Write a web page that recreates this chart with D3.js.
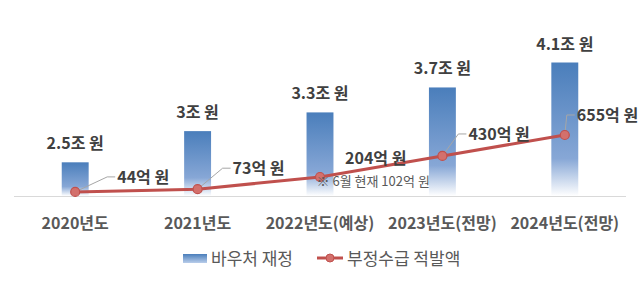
<!DOCTYPE html>
<html>
<head>
<meta charset="utf-8">
<script src="https://cdn.jsdelivr.net/npm/d3@7"></script>
<style>
  body { margin: 0; background: #fff; }
  text { font-family: "Noto Sans CJK KR", "Noto Sans", sans-serif; }
</style>
</head>
<body>
<svg id="chart" width="640" height="281"></svg>
<script>
// data
var years = ["2020년도", "2021년도", "2022년도(예상)", "2023년도(전망)", "2024년도(전망)"];
var budget = [2.5, 3, 3.3, 3.7, 4.1];            // 바우처 재정 (조 원)
var fraud = [44, 73, 204, 430, 655];              // 부정수급 적발액 (억 원)
var seriesNames = ["바우처 재정", "부정수급 적발액"];
var note = "※ 6월 현재 102억 원";

// label layout for the line values: [dx, dy, leader]
var lineLabelPos = [[42, -9, true], [35, -15, true], [25, -13, false], [26, -16, true], [12, -14, true]];

var svg = d3.select("#chart");
var baseY = 196;

var x = d3.scaleBand()
    .domain(years)
    .range([14, 626])
    .paddingInner(0.78)
    .paddingOuter(0.39);

// bar axis does not start at zero in the original
var yBar = d3.scaleLinear().domain([1.96, 4.1]).range([baseY, 62.5]);
var yLine = d3.scaleLinear().domain([0, 655]).range([baseY, 135]);

function cx(d, i) { return x(years[i]) + x.bandwidth() / 2; }

// gradient for the bars
var defs = svg.append("defs");
var grad = defs.append("linearGradient")
    .attr("id", "barGrad")
    .attr("x1", 0).attr("y1", 0).attr("x2", 0).attr("y2", 1);
grad.append("stop").attr("offset", "0").attr("stop-color", "#4a7ebb");
grad.append("stop").attr("offset", "0.72").attr("stop-color", "#87a7d6");
grad.append("stop").attr("offset", "1").attr("stop-color", "#ffffff");

// bars
svg.selectAll("rect.bar")
    .data(budget)
    .enter()
    .append("rect")
    .attr("class", "bar")
    .attr("x", function(d, i){ return x(years[i]); })
    .attr("y", function(d){ return yBar(d); })
    .attr("width", x.bandwidth())
    .attr("height", function(d){ return baseY - yBar(d); })
    .attr("fill", "url(#barGrad)");

// baseline
svg.append("line")
    .attr("x1", 14).attr("x2", 626)
    .attr("y1", baseY + 0.5).attr("y2", baseY + 0.5)
    .attr("stroke", "#d9d9d9")
    .attr("stroke-width", 1);

// bar labels
svg.selectAll("text.barLabel")
    .data(budget)
    .enter()
    .append("text")
    .attr("class", "barLabel")
    .attr("x", cx)
    .attr("y", function(d){ return yBar(d) - 13; })
    .attr("text-anchor", "middle")
    .attr("font-size", 16)
    .attr("font-weight", "bold")
    .attr("fill", "#404040")
    .text(function(d){ return d + "조 원"; });

// category labels
svg.selectAll("text.cat")
    .data(years)
    .enter()
    .append("text")
    .attr("class", "cat")
    .attr("x", function(d){ return x(d) + x.bandwidth() / 2; })
    .attr("y", 229)
    .attr("text-anchor", "middle")
    .attr("font-size", 16)
    .attr("font-weight", "bold")
    .attr("fill", "#595959")
    .text(function(d){ return d; });

// leader lines
svg.selectAll("polyline.leader")
    .data(fraud)
    .enter()
    .filter(function(d, i){ return lineLabelPos[i][2]; })
    .append("polyline")
    .attr("class", "leader")
    .attr("points", function(d){
        var i = fraud.indexOf(d);
        var px = cx(d, i), py = yLine(d);
        var tx = px + lineLabelPos[i][0], ty = py + lineLabelPos[i][1] - 6;
        return [[px, py], [tx - 10, ty], [tx - 2, ty]].join(" ");
    })
    .attr("fill", "none")
    .attr("stroke", "#a6a6a6")
    .attr("stroke-width", 1);

// fraud line
var line = d3.line()
    .x(function(d, i){ return cx(d, i); })
    .y(function(d){ return yLine(d); });

svg.append("path")
    .datum(fraud)
    .attr("d", line)
    .attr("fill", "none")
    .attr("stroke", "#c0504d")
    .attr("stroke-width", 3)
    .attr("stroke-linejoin", "round");

svg.selectAll("circle.pt")
    .data(fraud)
    .enter()
    .append("circle")
    .attr("class", "pt")
    .attr("cx", cx)
    .attr("cy", function(d){ return yLine(d); })
    .attr("r", 4.5)
    .attr("fill", "#d3706c")
    .attr("stroke", "#c0504d")
    .attr("stroke-width", 1.2);

// line labels
svg.selectAll("text.lineLabel")
    .data(fraud)
    .enter()
    .append("text")
    .attr("class", "lineLabel")
    .attr("x", function(d, i){ return cx(d, i) + lineLabelPos[i][0]; })
    .attr("y", function(d, i){ return yLine(d) + lineLabelPos[i][1]; })
    .attr("font-size", 16)
    .attr("font-weight", "bold")
    .attr("fill", "#404040")
    .text(function(d){ return d + "억 원"; });

// note under 2022
svg.append("text")
    .attr("x", x(years[2]) + 10)
    .attr("y", 186)
    .attr("font-size", 13)
    .attr("fill", "#595959")
    .text(note);

// legend
var legendGrad = defs.append("linearGradient")
    .attr("id", "legendGrad")
    .attr("x1", 0).attr("y1", 0).attr("x2", 0).attr("y2", 1);
legendGrad.append("stop").attr("offset", "0").attr("stop-color", "#4a7ebb");
legendGrad.append("stop").attr("offset", "1").attr("stop-color", "#b9cdea");

var legend = svg.append("g").attr("class", "legend");
legend.append("rect")
    .attr("x", 183).attr("y", 254)
    .attr("width", 24).attr("height", 9)
    .attr("fill", "url(#legendGrad)");
legend.append("text")
    .attr("x", 211).attr("y", 265)
    .attr("font-size", 17)
    .attr("fill", "#595959")
    .text(seriesNames[0]);
legend.append("line")
    .attr("x1", 317).attr("x2", 343)
    .attr("y1", 258).attr("y2", 258)
    .attr("stroke", "#c0504d")
    .attr("stroke-width", 3);
legend.append("circle")
    .attr("cx", 330).attr("cy", 258)
    .attr("r", 4)
    .attr("fill", "#d3706c")
    .attr("stroke", "#c0504d");
legend.append("text")
    .attr("x", 347).attr("y", 265)
    .attr("font-size", 17)
    .attr("fill", "#595959")
    .text(seriesNames[1]);
</script>
</body>
</html>
